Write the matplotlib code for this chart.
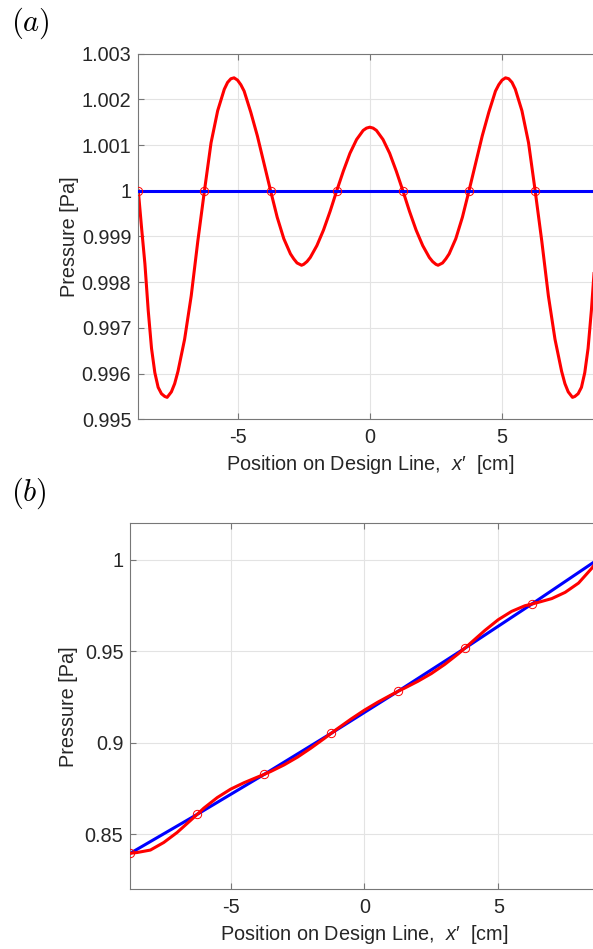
import numpy as np
import matplotlib
matplotlib.use("Agg")
import matplotlib.pyplot as plt

plt.rcParams['font.family'] = ['Liberation Sans', 'DejaVu Sans']
plt.rcParams['mathtext.fontset'] = 'custom'
plt.rcParams['mathtext.rm'] = 'Liberation Sans'
plt.rcParams['mathtext.it'] = 'Liberation Sans:italic'

# ---------------- data: panel (a) ----------------
x_a = [-8.75, -8.625, -8.5, -8.375, -8.25, -8.125, -8.0, -7.875, -7.75, -7.66, -7.5,
       -7.375, -7.25, -7.0, -6.75, -6.5, -6.25,
       -6.0, -5.75, -5.5, -5.375, -5.25, -5.13, -5.0, -4.875, -4.75, -4.5, -4.25, -4.0, -3.75,
       -3.5, -3.25, -3.0, -2.875, -2.75, -2.58, -2.5, -2.375, -2.25, -2.0, -1.75, -1.5, -1.25,
       -1.0, -0.75, -0.5, -0.25, -0.125, 0.0,
       0.125, 0.25, 0.5, 0.75, 1.0, 1.25, 1.5, 1.75, 2.0, 2.25, 2.375, 2.5, 2.58, 2.75,
       2.875, 3.0, 3.25, 3.5, 3.75, 4.0, 4.25, 4.5, 4.75, 4.875, 5.0, 5.13, 5.25, 5.375,
       5.5, 5.75, 6.0, 6.25, 6.5, 6.75, 7.0, 7.25, 7.375, 7.5, 7.66, 7.75, 7.875, 8.0,
       8.125, 8.25, 8.375, 8.5, 8.625, 8.75]
p_a_red = [1.0, 0.99918, 0.99840, 0.99738, 0.99655, 0.99602, 0.99570, 0.99556, 0.99550,
           0.99548, 0.99560, 0.99578, 0.99605, 0.99675, 0.99770, 0.99890, 1.0,
           1.00105, 1.00175, 1.00222, 1.00237, 1.00245, 1.00247, 1.00242, 1.00232, 1.00218,
           1.00172, 1.00120, 1.00060, 1.0,
           0.99942, 0.99895, 0.99862, 0.99851, 0.99842, 0.99837, 0.99839, 0.99845, 0.99854,
           0.99880, 0.99914, 0.99955, 1.0,
           1.00043, 1.00082, 1.00112, 1.00132, 1.00137, 1.00139,
           1.00137, 1.00132, 1.00112, 1.00082, 1.00043, 1.0, 0.99955, 0.99914, 0.99880,
           0.99854, 0.99845, 0.99839, 0.99837, 0.99842,
           0.99851, 0.99862, 0.99895, 0.99942, 1.0, 1.00060, 1.00120, 1.00172, 1.00218,
           1.00232, 1.00242, 1.00247, 1.00245, 1.00237,
           1.00222, 1.00175, 1.00105, 1.0, 0.99890, 0.99770, 0.99675, 0.99605, 0.99578,
           0.99560, 0.99548, 0.99550, 0.99556, 0.99570,
           0.99602, 0.99655, 0.99738, 0.99840, 0.99918, 1.0]
x_pts = [-8.75, -6.25, -3.75, -1.25, 1.25, 3.75, 6.25, 8.75]
p_a_blue = [1.0, 1.0, 1.0, 1.0, 1.0, 1.0, 1.0, 1.0]

# ---------------- data: panel (b) ----------------
p_b_blue = [0.8397, 0.86095, 0.88278, 0.90518, 0.92816, 0.9517, 0.97583, 1.00052]
x_b = [-8.75, -8.5, -8.0, -7.5, -7.0, -6.5, -6.25, -6.0, -5.5, -5.0, -4.5, -4.0,
       -3.75, -3.5, -3.0, -2.5, -2.0, -1.5, -1.25, -1.0, -0.5, 0.0, 0.5, 1.0,
       1.25, 1.5, 2.0, 2.5, 3.0, 3.5, 3.75, 4.0, 4.5, 5.0, 5.5, 6.0, 6.25, 6.5,
       7.0, 7.5, 8.0, 8.5, 8.75]
p_b_red = [0.83970, 0.84009, 0.84144, 0.84558, 0.85106, 0.85763, 0.86095, 0.86438,
           0.87013, 0.87473, 0.87825, 0.88130, 0.88278, 0.88439, 0.88800, 0.89224,
           0.89715, 0.90244, 0.90518, 0.90786, 0.91306, 0.91790, 0.92226, 0.92624,
           0.92816, 0.92994, 0.93369, 0.93789, 0.94289, 0.94862, 0.95170, 0.95499,
           0.96147, 0.96733, 0.97187, 0.97497, 0.97583, 0.97682, 0.97886, 0.98227,
           0.98734, 0.99551, 1.00052]

a_yticks = [0.995, 0.996, 0.997, 0.998, 0.999, 1.0, 1.001, 1.002, 1.003]
a_yticklabels = ['0.995', '0.996', '0.997', '0.998', '0.999', '1', '1.001', '1.002', '1.003']
b_yticks = [0.85, 0.9, 0.95, 1.0]
b_yticklabels = ['0.85', '0.9', '0.95', '1']
xticks = [-5, 0, 5]
xticklabels = ['-5', '0', '5']
xlabel_text = "Position on Design Line,  $x$\u2032  [cm]"

W, H = 593, 949
fig = plt.figure(figsize=(W / 100, H / 100), dpi=100)

txt = '#262626'
spine_c = '#777777'
FS = 14.3


def style(ax):
    for s in ax.spines.values():
        s.set_color(spine_c)
        s.set_linewidth(0.8)
    ax.tick_params(direction='in', length=4, width=0.8, color=spine_c,
                   labelsize=FS, labelcolor=txt, top=True, right=True)
    ax.tick_params(axis='x', pad=6.5)
    ax.tick_params(axis='y', pad=5)
    ax.grid(True, color='#e3e3e3', linewidth=0.8)
    ax.set_axisbelow(True)


ax1 = fig.add_axes([138.3 / W, 1 - 419.3 / H, 463.0 / W, 365.7 / H])
ax1.plot(x_a, p_a_red, color='red', lw=2.2, zorder=2)
ax1.plot(x_pts, p_a_blue, color='blue', lw=2.2, zorder=3)
ax1.plot(x_pts, p_a_blue, 'o', mfc='none', mec='red', ms=6, mew=0.7, zorder=4)
ax1.set_xlim(-8.75, 8.75)
ax1.set_ylim(0.995, 1.003)
ax1.set_yticks(a_yticks)
ax1.set_yticklabels(a_yticklabels)
ax1.set_xticks(xticks)
ax1.set_xticklabels(xticklabels)
style(ax1)
ax1.set_ylabel('Pressure [Pa]', fontsize=FS, color=txt, labelpad=2)
ax1.set_xlabel(xlabel_text, fontsize=FS, color=txt, labelpad=4)

ax2 = fig.add_axes([130.3 / W, 1 - 889.3 / H, 468.3 / W, 366.0 / H])
ax2.plot(x_pts, p_b_blue, color='blue', lw=2.2, zorder=2)
ax2.plot(x_b, p_b_red, color='red', lw=2.2, zorder=3)
ax2.plot(x_pts, p_b_blue, 'o', mfc='none', mec='red', ms=6, mew=0.7, zorder=4)
ax2.set_xlim(-8.75, 8.75)
ax2.set_ylim(0.82, 1.02)
ax2.set_yticks(b_yticks)
ax2.set_yticklabels(b_yticklabels)
ax2.set_xticks(xticks)
ax2.set_xticklabels(xticklabels)
style(ax2)
ax2.set_ylabel('Pressure [Pa]', fontsize=FS, color=txt, labelpad=5)
ax2.set_xlabel(xlabel_text, fontsize=FS, color=txt, labelpad=4)

fig.text(11 / W, 1 - 23 / H, r'$(a)$', fontsize=22, math_fontfamily='cm',
         ha='left', va='center', color='black')
fig.text(11 / W, 1 - 493 / H, r'$(b)$', fontsize=22, math_fontfamily='cm',
         ha='left', va='center', color='black')

fig.savefig('out.png', dpi=100)
